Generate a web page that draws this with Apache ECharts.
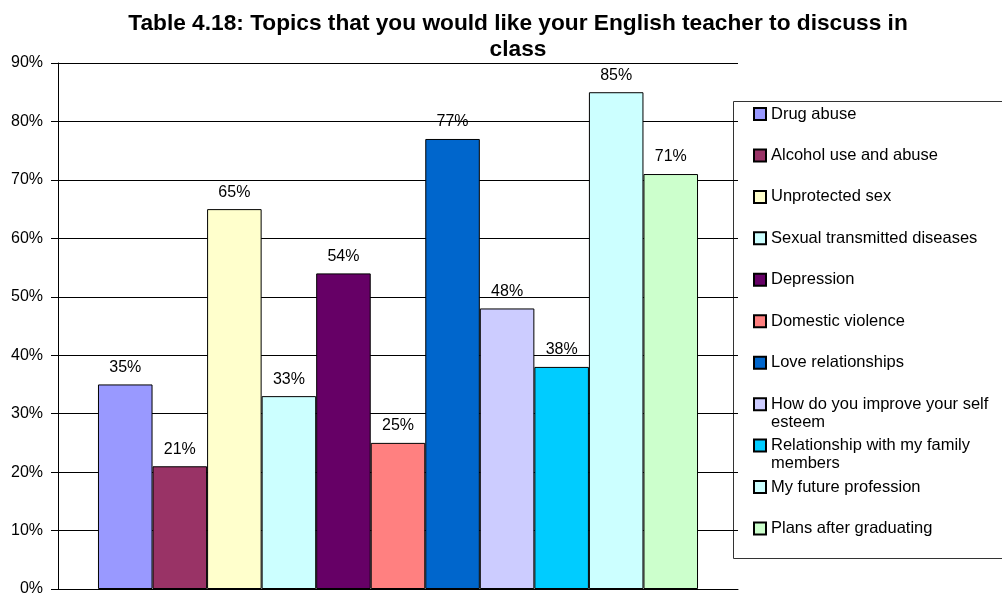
<!DOCTYPE html>
<html>
<head>
<meta charset="utf-8">
<script src="https://cdn.jsdelivr.net/npm/echarts@6/dist/echarts.min.js"></script>
<style>
  html, body { margin: 0; padding: 0; background: #fff; }
  #chart { width: 1002px; height: 594px; }
</style>
</head>
<body>
<div id="chart"></div>
<script>
// Survey topics and the share of students who chose each one (%)
const topics = [
  'Drug abuse',
  'Alcohol use and abuse',
  'Unprotected sex',
  'Sexual transmitted diseases',
  'Depression',
  'Domestic violence',
  'Love relationships',
  'How do you improve your self esteem',
  'Relationship with my family members',
  'My future profession',
  'Plans after graduating'
];
const shares = [35, 21, 65, 33, 54, 25, 77, 48, 38, 85, 71];
const topicColors = [
  '#9999FF', '#993366', '#FFFFCC', '#CCFFFF', '#660066', '#FF8080',
  '#0066CC', '#CCCCFF', '#00CCFF', '#CCFFFF', '#CCFFCC'
];
// Legend entries that wrap onto a second line
const wrappedNames = {
  'How do you improve your self esteem': 'How do you improve your self\nesteem',
  'Relationship with my family members': 'Relationship with my family\nmembers'
};
const yTicks = { min: 0, max: 90, step: 10 };

const FONT = '"Liberation Sans", Arial, sans-serif';
const LINE = 18;

const series = topics.map((name, i) => ({
  name: name,
  type: 'bar',
  data: [shares[i]],
  barGap: '0%',
  barCategoryGap: '11.76%',
  itemStyle: { color: topicColors[i], borderColor: '#000', borderWidth: 1 },
  label: {
    show: true,
    position: 'top',
    distance: 9,
    formatter: '{c}%',
    color: '#000',
    fontFamily: FONT,
    fontSize: 16
  }
}));

// Each legend entry is laid out as three text lines so the first visible
// line sits level with the swatch and all rows share one height.
function legendLabel(name) {
  const wrapped = wrappedNames[name];
  return wrapped ? '\n' + wrapped : '\n' + name + '\n';
}

const chart = echarts.init(document.getElementById('chart'), null, { renderer: 'canvas' });
chart.setOption({
  backgroundColor: '#fff',
  animation: false,
  title: {
    text: 'Table 4.18: Topics that you would like your English teacher to discuss in\nclass',
    left: 513,
    top: 6,
    textAlign: 'center',
    textStyle: {
      fontFamily: FONT,
      fontWeight: 'bold',
      fontSize: 22.7,
      lineHeight: 26,
      color: '#000'
    }
  },
  graphic: [{
    type: 'rect',
    shape: { x: 733.5, y: 101.5, width: 320, height: 457 },
    style: { fill: '#fff', stroke: '#333', lineWidth: 1 },
    z: -1
  }],
  legend: {
    orient: 'vertical',
    left: 753,
    top: 87,
    padding: 0,
    itemGap: 41.45 - 3 * LINE,
    itemWidth: 12,
    itemHeight: 12,
    icon: 'rect',
    data: topics,
    formatter: legendLabel,
    textStyle: {
      fontFamily: FONT,
      fontSize: 16.5,
      lineHeight: LINE,
      color: '#000'
    }
  },
  grid: {
    left: 58,
    right: 264,
    top: 63,
    bottom: 5,
    containLabel: false,
    outerBoundsMode: 'none'
  },
  xAxis: {
    type: 'category',
    data: [''],
    axisLine: { show: true, lineStyle: { color: '#000', width: 1 } },
    axisTick: { show: false },
    axisLabel: { show: false },
    splitLine: { show: false }
  },
  yAxis: {
    type: 'value',
    min: yTicks.min,
    max: yTicks.max,
    interval: yTicks.step,
    axisLine: { show: true, lineStyle: { color: '#000', width: 1 } },
    axisTick: { show: true, length: 7, lineStyle: { color: '#000' } },
    axisLabel: {
      formatter: '{value}%',
      margin: 15,
      color: '#000',
      fontFamily: FONT,
      fontSize: 16
    },
    splitLine: { show: true, lineStyle: { color: '#000', width: 1 } }
  },
  series: series
});
</script>
</body>
</html>
